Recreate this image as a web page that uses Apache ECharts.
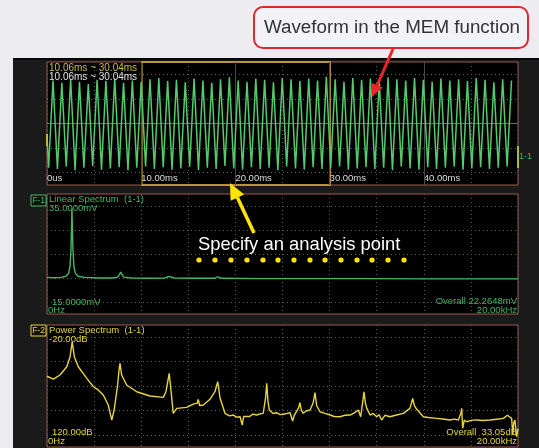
<!DOCTYPE html>
<html><head><meta charset="utf-8">
<script src="https://cdn.jsdelivr.net/npm/echarts/dist/echarts.min.js"></script>
<style>
html,body{margin:0;padding:0;background:#ececf1;width:539px;height:448px;overflow:hidden;}
#screen{position:absolute;left:13px;top:58px;width:526px;height:390px;background:#1a1a1a;border-top:2px solid #050505;box-sizing:border-box;}
#c{position:absolute;left:0;top:0;width:539px;height:448px;}
</style>
</head><body><div id="screen"></div><div id="c"></div>
<script>
// ---------- DATA ----------
// Waveform (MEM function), time axis in ms; triangle-like wave, peaks and troughs
const waveStartMs = 0;
const waveStartValue = -0.19;
const waveFirstTroughMs = 0.17;
const waveHalfPeriodMs = 0.468;
const wavePeaks = [0.70,0.66,0.72,0.68,0.64,0.71,0.69,0.73,0.66,0.70,0.68,0.72,0.74,0.69,0.71,0.67,0.73,0.70,0.66,0.72,0.75,0.70,0.68,0.73,0.71,0.67,0.74,0.72,0.69,0.73,0.70,0.76,0.72,0.68,0.74,0.71,0.73,0.69,0.75,0.72,0.70,0.74,0.71,0.68,0.73,0.70,0.72,0.69,0.74,0.71,0.67,0.72,0.70];
const waveTroughs = [-0.72,-0.74,-0.70,-0.76,-0.72,-0.69,-0.75,-0.73,-0.71,-0.76,-0.72,-0.70,-0.74,-0.71,-0.75,-0.73,-0.70,-0.76,-0.72,-0.74,-0.69,-0.73,-0.75,-0.71,-0.74,-0.72,-0.76,-0.70,-0.73,-0.75,-0.71,-0.74,-0.72,-0.70,-0.75,-0.73,-0.71,-0.74,-0.72,-0.76,-0.70,-0.73,-0.75,-0.71,-0.74,-0.72,-0.70,-0.75,-0.73,-0.71,-0.74,-0.72,-0.70];
const waveTickValues = [0,10,20,30,40];
const waveTickLabels = ['0us','10.00ms','20.00ms','30.00ms','40.00ms'];
const selectStartMs = 10.06, selectEndMs = 30.04;

// Linear spectrum (kHz, mV)
const linFreq = [0,0.3,0.6,0.8,0.92,0.98,1.02,1.045,1.06,1.075,1.1,1.14,1.2,1.32,1.6,2.2,2.8,3.0,3.08,3.13,3.18,3.26,3.6,4.4,5.0,5.13,5.2,5.27,5.4,6.2,7.1,7.26,7.4,9.0,11.3,11.38,11.46,13.4,13.46,13.52,16,20];
const linAmp  = [21.1,21.05,21.1,21.3,21.8,23,26,30,32.6,30,26,23,21.8,21.3,21.1,21.0,21.0,21.15,21.6,22.0,21.6,21.15,21.0,20.95,21.0,21.2,21.5,21.2,21.0,20.95,20.95,21.2,20.95,20.9,20.9,21.1,20.9,20.9,21.1,20.9,20.85,20.85];

// Power spectrum (kHz, dB)
const powFreq = [0,0.27,0.55,0.84,0.98,1.04,1.07,1.1,1.16,1.33,1.69,1.97,2.14,2.18,2.22,2.39,2.6,2.75,2.85,2.99,3.07,3.10,3.17,3.38,3.81,4.37,4.94,5.05,5.19,5.27,5.36,5.51,5.93,6.21,6.38,6.42,6.48,6.54,6.64,6.92,7.13,7.25,7.35,7.56,7.75,7.91,8.05,8.2,8.29,8.35,8.41,8.6,8.75,8.9,9.05,9.18,9.28,9.33,9.38,9.44,9.6,9.75,9.9,10.03,10.2,10.32,10.43,10.5,10.57,10.68,10.74,10.8,10.88,11.0,11.17,11.3,11.38,11.45,11.59,11.8,12.02,12.2,12.44,12.65,12.87,13.05,13.22,13.32,13.4,13.46,13.52,13.58,13.72,13.85,14.0,14.1,14.21,14.35,14.56,14.8,15.13,15.41,15.53,15.6,15.7,15.98,16.2,16.55,16.8,17.11,17.3,17.47,17.58,17.61,17.65,17.72,17.82,18.05,18.25,18.5,18.81,19.1,19.38,19.55,19.63,19.73,19.78,19.82,19.87,19.94,20];
const powDb = [-62,-64.3,-61,-54.2,-46,-38,-33.7,-38,-46,-54.2,-63.7,-70.6,-72.7,-71.4,-73,-77.4,-85.6,-97.9,-89.7,-70.6,-55,-51.4,-61,-69.2,-74.7,-78.2,-79.3,-74.7,-59.6,-74.7,-92.4,-88.3,-87.5,-84.8,-84,-80.9,-86,-87.5,-85.6,-80.9,-74.7,-66.5,-80.1,-92.4,-94.5,-93.8,-95.5,-95.2,-102,-95,-93.8,-95,-93,-93.8,-92.8,-92.4,-80,-67.8,-82,-89.7,-92.5,-91.9,-93.5,-93.2,-92.4,-91.9,-98.7,-94,-93.8,-88,-83.7,-90,-92.4,-90.5,-89.7,-84,-75.5,-86,-91.1,-92.5,-93.8,-95,-95.2,-94,-93.8,-92,-89.7,-95.2,-84,-74.7,-84,-88.3,-93.8,-92.5,-95.2,-93.5,-97.9,-94,-95.2,-94,-92.4,-88.3,-80.1,-86,-89.1,-95.2,-95.8,-96.5,-97,-97.9,-97.2,-97.9,-92,-88.3,-104.7,-98,-99.3,-98,-97.9,-98.3,-97.9,-97.2,-96.5,-94,-92.4,-96.5,-110.2,-100,-97.9,-111.6,-105];

// ---------- BUILD ----------
const waveData = [[waveStartMs, waveStartValue]];
for (let i = 0; i < wavePeaks.length; i++) {
  const tT = waveFirstTroughMs + 2 * i * waveHalfPeriodMs;
  const tP = tT + waveHalfPeriodMs;
  if (tT <= 50) waveData.push([tT, waveTroughs[i]]);
  if (tP <= 50) waveData.push([tP, wavePeaks[i]]);
}
const linData = linFreq.map((f, i) => [f, linAmp[i]]);
const powData = powFreq.map((f, i) => [f, powDb[i]]);

const FONT = '"Liberation Sans", Arial, sans-serif';
const GRIDC = '#5a5a5a';
const BORDER = '#a05a48';
function hLines(min, max) {
  const r = max - min;
  return [0.1, 0.3, 0.5, 0.7, 0.9].map(f => ({ yAxis: max - f * r }));
}
function gridMark(min, max, extra) {
  return {
    silent: true, symbol: ['none', 'none'], animation: false,
    label: { show: false },
    lineStyle: { type: [1, 3], color: GRIDC, width: 1 },
    data: hLines(min, max).concat(extra || [])
  };
}
function txt(x, y, s, color, size, align) {
  return { type: 'text', z: 50, silent: true,
    style: { text: s, x: x, y: y, fill: color, fontSize: size || 9.5, fontFamily: FONT,
      align: align || 'left', verticalAlign: 'middle' } };
}

const G1 = { left: 47, top: 62, width: 471, height: 123 };
const G2 = { left: 47, top: 194, width: 471, height: 120 };
const G3 = { left: 47, top: 325, width: 471, height: 122 };

const wLabelColor = '#dcdcdc';
const green = '#44b762';
const yellow = '#e8d43c';

const option = {
  animation: false,
  backgroundColor: 'transparent',
  grid: [G1, G2, G3].map(g => Object.assign({ show: true, backgroundColor: '#000', borderColor: BORDER, borderWidth: 1 }, g)),
  xAxis: [
    { gridIndex: 0, type: 'value', min: 0, max: 50, interval: 5,
      axisLine: { show: false }, axisTick: { show: false },
      splitLine: { show: true, lineStyle: { type: [1, 3], color: GRIDC } },
      axisLabel: { inside: true, align: 'left', margin: 2, color: wLabelColor, fontSize: 9.5, fontFamily: FONT,
        showMaxLabel: false,
        formatter: v => { const k = waveTickValues.indexOf(v); return k >= 0 ? waveTickLabels[k] : ''; } } },
    { gridIndex: 1, type: 'value', min: 0, max: 20, interval: 2,
      axisLine: { show: false }, axisTick: { show: false }, axisLabel: { show: false },
      splitLine: { show: true, lineStyle: { type: [1, 3], color: GRIDC } } },
    { gridIndex: 2, type: 'value', min: 0, max: 20, interval: 2,
      axisLine: { show: false }, axisTick: { show: false }, axisLabel: { show: false },
      splitLine: { show: true, lineStyle: { type: [1, 3], color: GRIDC } } }
  ],
  yAxis: [
    { gridIndex: 0, type: 'value', min: -1, max: 1, axisLine: { show: false }, axisTick: { show: false }, axisLabel: { show: false }, splitLine: { show: false } },
    { gridIndex: 1, type: 'value', min: 15, max: 35, axisLine: { show: false }, axisTick: { show: false }, axisLabel: { show: false }, splitLine: { show: false } },
    { gridIndex: 2, type: 'value', min: -120, max: -20, axisLine: { show: false }, axisTick: { show: false }, axisLabel: { show: false }, splitLine: { show: false } }
  ],
  series: [
    { type: 'line', xAxisIndex: 0, yAxisIndex: 0, data: waveData, showSymbol: false, symbol: 'none',
      lineStyle: { color: '#55c96c', width: 1.5 }, z: 5,
      markLine: gridMark(-1, 1, [10, 20, 30, 40].map(v => ({ xAxis: v, lineStyle: { type: 'solid', color: '#4a4a4a', width: 1 } }))
        .concat([{ yAxis: 0, lineStyle: { type: 'solid', color: '#6a6a6a', width: 1 } }])),
      markArea: { silent: true, itemStyle: { color: 'rgba(0,0,0,0)', borderColor: '#d8b43a', borderWidth: 1.6 },
        data: [[{ xAxis: selectStartMs }, { xAxis: selectEndMs }]] } },
    { type: 'line', xAxisIndex: 1, yAxisIndex: 1, data: linData, showSymbol: false, symbol: 'none',
      lineStyle: { color: green, width: 1.4 }, z: 5, markLine: gridMark(15, 35) },
    { type: 'line', xAxisIndex: 2, yAxisIndex: 2, data: powData, showSymbol: false, symbol: 'none',
      lineStyle: { color: yellow, width: 1.4 }, z: 5, markLine: gridMark(-120, -20) }
  ],
  graphic: [
    // panel 1 texts
    txt(49, 68, '10.06ms ~ 30.04ms', '#cdbf52', 10),
    txt(49, 77, '10.06ms ~ 30.04ms', '#e2e2e2', 10),
    txt(519, 157, '1-1', green, 9),
    { type: 'rect', z: 40, silent: true, shape: { x: 46, y: 134, width: 2, height: 12 }, style: { fill: '#c8b640' } },
    { type: 'rect', z: 40, silent: true, shape: { x: 517, y: 146, width: 2, height: 22 }, style: { fill: '#a8b848' } },
    // panel 2 texts
    { type: 'rect', z: 40, silent: true, shape: { x: 31, y: 195, width: 15, height: 11 }, style: { fill: '#0b140b', stroke: green, lineWidth: 1 } },
    txt(38.5, 200.5, 'F-1', green, 8.5, 'center'),
    txt(49, 199, 'Linear Spectrum  (1-1)', green),
    txt(49, 208, '35.0000mV', green),
    txt(52, 302, '15.0000mV', green),
    txt(48, 310, '0Hz', green),
    txt(517, 301, 'Overall 22.2648mV', green, 9.5, 'right'),
    txt(517, 310, '20.00kHz', green, 9.5, 'right'),
    // panel 3 texts
    { type: 'rect', z: 40, silent: true, shape: { x: 31, y: 325, width: 15, height: 11 }, style: { fill: '#141205', stroke: yellow, lineWidth: 1 } },
    txt(38.5, 330.5, 'F-2', yellow, 8.5, 'center'),
    txt(49, 330, 'Power Spectrum  (1-1)', yellow),
    txt(49, 339, '-20.00dB', yellow),
    txt(52, 432, '120.00dB', yellow),
    txt(48, 441, '0Hz', yellow),
    txt(517, 432, 'Overall  33.05dB', yellow, 9.5, 'right'),
    txt(517, 441, '20.00kHz', yellow, 9.5, 'right'),
    // callout: MEM
    { type: 'rect', z: 60, silent: true, shape: { x: 254, y: 7, width: 274, height: 41, r: 9 }, style: { fill: '#f3f3f7', stroke: '#e2262b', lineWidth: 2 } },
    { type: 'text', z: 61, silent: true, style: { text: 'Waveform in the MEM function', x: 392, y: 28, align: 'center', verticalAlign: 'middle', fontSize: 18.8, fontFamily: FONT, fill: '#333333' } },
    { type: 'line', z: 60, silent: true, shape: { x1: 393, y1: 49, x2: 377.2, y2: 85.1 }, style: { stroke: '#e8262a', lineWidth: 3 } },
    { type: 'polygon', z: 60, silent: true, shape: { points: [[372, 97], [382.7, 87.5], [371.7, 82.7]] }, style: { fill: '#e8262a' } },
    // callout: analysis point
    { type: 'line', z: 60, silent: true, shape: { x1: 254, y1: 233, x2: 237.4, y2: 197.6 }, style: { stroke: '#ffe600', lineWidth: 3.5 } },
    { type: 'polygon', z: 60, silent: true, shape: { points: [[230, 183], [244.2, 194.4], [230.6, 200.8]] }, style: { fill: '#ffe600' } },
    { type: 'text', z: 61, silent: true, style: { text: 'Specify an analysis point', x: 198, y: 245, align: 'left', verticalAlign: 'middle', fontSize: 18.4, fontFamily: FONT, fill: '#ffffff' } }
  ].concat([199,215,231,247,263,278,294,310,325,341,357,372,388,404].map(x => ({
    type: 'circle', z: 60, silent: true, shape: { cx: x, cy: 260, r: 2.6 }, style: { fill: '#ffe600' } })))
};

const chart = echarts.init(document.getElementById('c'), null, { renderer: 'canvas' });
chart.setOption(option);
</script>
</body></html>
